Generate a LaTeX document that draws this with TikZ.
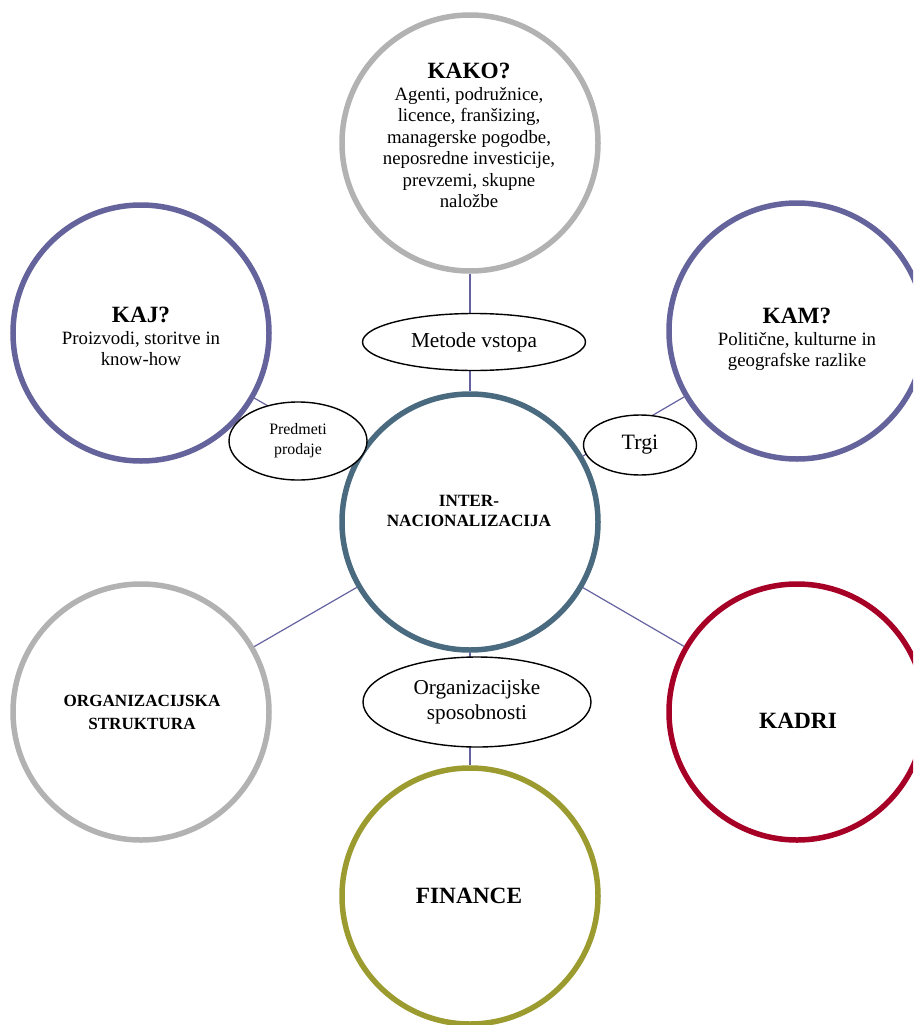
\documentclass[tikz,border=0pt]{standalone}
\usepackage{fontspec}
\setmainfont{Liberation Serif}
\usepackage{tikz}
\usetikzlibrary{shapes}

\definecolor{ringgrey}{RGB}{178,178,178}
\definecolor{ringpurple}{RGB}{101,99,156}
\definecolor{ringslate}{RGB}{74,106,128}
\definecolor{ringred}{RGB}{166,0,38}
\definecolor{ringolive}{RGB}{155,155,48}
\definecolor{linkpurple}{RGB}{100,98,160}

\newcommand{\hd}{\fontsize{23.3}{21.5}\selectfont\bfseries}
\newcommand{\bd}{\fontsize{18.8}{21.5}\selectfont}

\begin{document}
\begin{tikzpicture}[x=1pt,y=-1pt,
  ring/.style={circle,draw=#1,line width=5.5pt,minimum size=256pt,inner sep=0pt},
  bubble/.style={ellipse,draw,line width=1.4pt,fill=white,inner sep=0pt},
  link/.style={draw=linkpurple,line width=1.2pt},
  txt/.style={align=center,inner sep=0pt,anchor=north}]
\useasboundingbox (0,0) rectangle (913,1025);
\clip (0,0) rectangle (913,1025);
%circles
\node[ring=ringgrey] (kako) at (470,143) {};
\node[ring=ringpurple] (kaj) at (141,333) {};
\node[ring=ringpurple] (kam) at (797,331) {};
\node[ring=ringslate] (inter) at (470,522) {};
\node[ring=ringgrey] (org) at (141,712) {};
\node[ring=ringred] (kadri) at (797,712) {};
\node[ring=ringolive] (finance) at (470,896) {};
%spokes
\foreach \n in {kako,kaj,kam,org,kadri,finance}
\path[link] (\n) -- (inter);
%labels on the spokes
\node[bubble,minimum width=223pt,minimum height=57pt,font=\fontsize{21.3}{24}\selectfont] (metode) at (474,342) {Metode vstopa};
\node[bubble,minimum width=138pt,minimum height=78pt,align=center,font=\fontsize{15.9}{20}\selectfont] (predmeti) at (298,441) {Predmeti\\prodaje};
\node[bubble,minimum width=113pt,minimum height=60pt,font=\fontsize{21.9}{24}\selectfont] (trgi) at (640,445) {Trgi};
\node[bubble,minimum width=228pt,minimum height=90pt,align=center,font=\fontsize{21.2}{24.4}\selectfont] (orgsp) at (477,702) {Organizacijske\\sposobnosti};
%texts in the circles
\node[txt,font=\bd] (kakotxt) at (469,63) {{\hd KAKO?}\\Agenti, podružnice,\\licence, franšizing,\\managerske pogodbe,\\neposredne investicije,\\prevzemi, skupne\\naložbe};
\node[txt,font=\bd] (kajtxt) at (141,307) {{\hd KAJ?}\\Proizvodi, storitve in\\know-how};
\node[txt,font=\bd] (kamtxt) at (797,308) {{\hd KAM?}\\Politične, kulturne in\\geografske razlike};
\node[txt,font=\fontsize{17.2}{20.5}\selectfont\bfseries] (intertxt) at (469,495) {INTER-\\NACIONALIZACIJA};
\node[txt,font=\fontsize{17.1}{23}\selectfont\bfseries] (orgtxt) at (142,695) {ORGANIZACIJSKA\\STRUKTURA};
\node[txt,font=\hd] (kadritxt) at (798,713) {KADRI};
\node[txt,font=\hd] (financetxt) at (469,888) {FINANCE};
\end{tikzpicture}
\end{document}
